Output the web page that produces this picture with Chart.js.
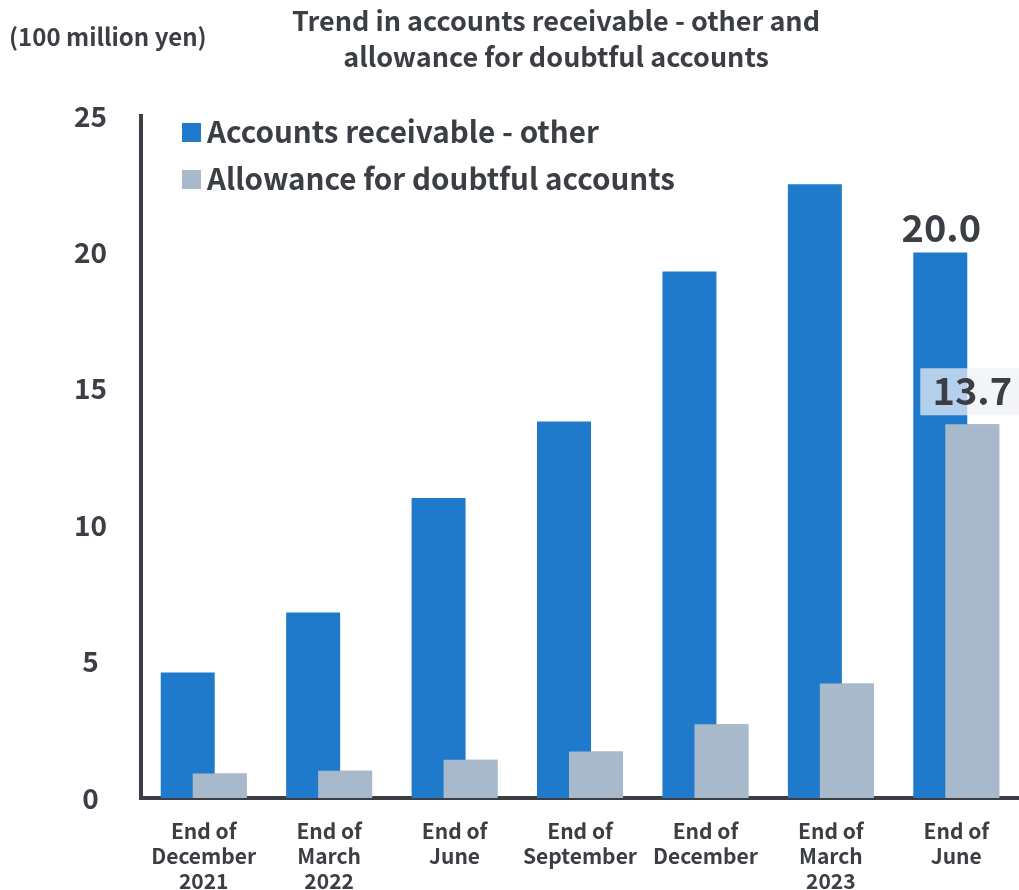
<!DOCTYPE html>
<html>
<head>
<meta charset="utf-8">
<script src="https://cdn.jsdelivr.net/npm/chart.js@4.4.1/dist/chart.umd.min.js"></script>
<style>
html,body{margin:0;padding:0;background:#fff;}
#wrap{width:1019px;height:890px;position:relative;}
</style>
</head>
<body>
<div id="wrap"><canvas id="c" width="1019" height="890"></canvas></div>
<script>
const categories = [
  ["End of","December","2021"],
  ["End of","March","2022"],
  ["End of","June"],
  ["End of","September"],
  ["End of","December"],
  ["End of","March","2023"],
  ["End of","June"]
];
const receivableOther = [4.6, 6.8, 11.0, 13.8, 19.3, 22.5, 20.0];
const allowanceDoubtful = [0.9, 1.0, 1.4, 1.7, 2.7, 4.2, 13.7];
const seriesNames = ["Accounts receivable - other", "Allowance for doubtful accounts"];
const yTicks = [0, 5, 10, 15, 20, 25];
const titleLines = ["Trend in accounts receivable - other and", "allowance for doubtful accounts"];
const unitLabel = "(100 million yen)";

const TXT = '#3b3e44';
const BLUE = '#1f7acb';
const GRAY = '#a8b9cb';
const FONT = '"Noto Sans CJK JP", "Noto Sans", sans-serif';

const overlayPlugin = {
  id: 'overlay',
  afterDatasetsDraw(chart) {
    // draw the allowance bars on top of the receivable bars
    chart.getDatasetMeta(1).controller.draw();
  },
  afterDraw(chart) {
    const ctx = chart.ctx;
    ctx.save();
    ctx.fillStyle = TXT;
    // unit label
    ctx.font = 'bold 24px ' + FONT;
    ctx.textAlign = 'left';
    ctx.textBaseline = 'alphabetic';
    ctx.fillText(unitLabel, 9, 46);
    // title
    ctx.font = 'bold 27px ' + FONT;
    ctx.textAlign = 'center';
    ctx.fillText(titleLines[0], 556, 31);
    ctx.fillText(titleLines[1], 556, 67);
    // legend
    ctx.font = 'bold 29.6px ' + FONT;
    ctx.textAlign = 'left';
    const colors = [BLUE, GRAY];
    for (let i = 0; i < 2; i++) {
      const y = 123 + i * 47;
      ctx.fillStyle = colors[i];
      ctx.fillRect(182, y, 19, 19);
      ctx.fillStyle = TXT;
      ctx.fillText(seriesNames[i], 207, y + 20);
    }
    // value labels on last category
    const last = categories.length - 1;
    const b = chart.getDatasetMeta(0).data[last];
    const g = chart.getDatasetMeta(1).data[last];
    ctx.font = 'bold 38px ' + FONT;
    ctx.textAlign = 'center';
    ctx.fillStyle = TXT;
    ctx.fillText(receivableOther[last].toFixed(1), b.x + 1, b.y - 10);
    ctx.fillStyle = 'rgba(238,241,247,0.72)';
    ctx.fillRect(g.x - 52, g.y - 56, 110, 47);
    ctx.fillStyle = TXT;
    ctx.fillText(allowanceDoubtful[last].toFixed(1), g.x, g.y - 19);
    ctx.restore();
  }
};

new Chart(document.getElementById('c'), {
  type: 'bar',
  data: {
    labels: categories,
    datasets: [
      { label: seriesNames[0], data: receivableOther, backgroundColor: BLUE,
        categoryPercentage: 0.51, barPercentage: 1.6875 },
      { label: seriesNames[1], data: allowanceDoubtful, backgroundColor: GRAY,
        categoryPercentage: 0.51, barPercentage: 1.6875 }
    ]
  },
  options: {
    responsive: false,
    animation: false,
    events: [],
    layout: { padding: { top: 116, right: 0, left: 0, bottom: 0 } },
    plugins: { legend: { display: false }, tooltip: { enabled: false }, title: { display: false } },
    scales: {
      x: {
        offset: true,
        grid: { display: false, drawTicks: false },
        border: { display: true, color: TXT, width: 4 },
        ticks: { color: TXT, font: { family: FONT, size: 21, weight: 'bold', lineHeight: 1.2 },
                 padding: 20, maxRotation: 0, autoSkip: false },
        afterFit(s) { s.height = 92; }
      },
      y: {
        min: 0, max: 25,
        afterBuildTicks(s) { s.ticks = yTicks.map(v => ({ value: v })); },
        grid: { display: false, drawTicks: false },
        border: { display: true, color: TXT, width: 4 },
        ticks: { color: TXT, font: { family: FONT, size: 28, weight: 'bold' },
                 padding: 34, crossAlign: 'center' },
        afterFit(s) { s.width = 141; }
      }
    }
  },
  plugins: [overlayPlugin]
});
</script>
</body>
</html>
